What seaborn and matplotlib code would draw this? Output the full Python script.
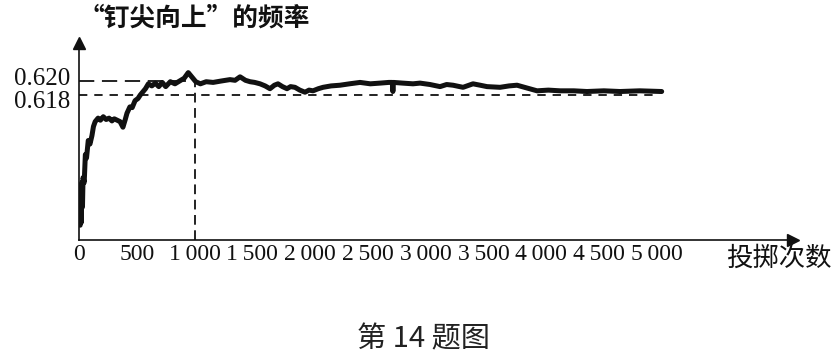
import numpy as np
import pandas as pd
import matplotlib
matplotlib.use("Agg")
import matplotlib.pyplot as plt
import matplotlib.transforms as mtransforms
import seaborn as sns

# ---- data ----
throws = [10, 15, 20, 25, 30, 35, 45, 55, 65, 80, 95, 112, 125, 140, 165, 185, 210, 235,
          260, 285, 305, 330, 355, 380, 400, 415, 440, 460, 485, 510, 530, 555, 575, 600,
          630, 660, 690, 720, 750, 790, 830, 870, 910, 945, 980, 1010, 1050, 1100, 1160,
          1230, 1306, 1350, 1393, 1440, 1480, 1520, 1566, 1610, 1652, 1690, 1721, 1760,
          1799, 1830, 1868, 1910, 1955, 1990, 2024, 2070, 2111, 2180, 2258, 2340, 2431,
          2520, 2604, 2680, 2710, 2715, 2720, 2800, 2889, 2950, 3036, 3123, 3180, 3235,
          3322, 3408, 3470, 3529, 3642, 3720, 3789, 3875, 3962, 4060, 4161, 4280, 4394,
          4540, 4680, 4850, 5040]
freq = [0.5994, 0.6040, 0.5998, 0.6055, 0.6020, 0.6062, 0.6055, 0.6095, 0.6090, 0.6115,
        0.6110, 0.6122, 0.6135, 0.6142, 0.6147, 0.6144, 0.6149, 0.6145, 0.6147, 0.6143,
        0.6146, 0.6144, 0.6142, 0.6134, 0.6145, 0.6154, 0.6163, 0.6162, 0.6172, 0.6175,
        0.6180, 0.6185, 0.6189, 0.6196, 0.6193, 0.6197, 0.6192, 0.6198, 0.6192, 0.6199,
        0.6196, 0.6200, 0.6204, 0.6212, 0.6205, 0.6199, 0.6196, 0.6199, 0.6198, 0.6200,
        0.6202, 0.6201, 0.6206, 0.6201, 0.6199, 0.6198, 0.6196, 0.6193, 0.6189, 0.6194,
        0.6196, 0.6192, 0.6189, 0.6192, 0.6191, 0.6187, 0.6184, 0.6187, 0.6186, 0.6189,
        0.6191, 0.6193, 0.6194, 0.6196, 0.6198, 0.6196, 0.6197, 0.6198, 0.6198, 0.6185,
        0.6198, 0.6197, 0.6196, 0.6197, 0.6195, 0.6192, 0.6195, 0.6194, 0.6191, 0.6196,
        0.6194, 0.6192, 0.6191, 0.6193, 0.6194, 0.6190, 0.6186, 0.6187, 0.6186, 0.6186,
        0.6185, 0.6186, 0.6185, 0.6186, 0.6185]

x_ticks = [0, 500, 1000, 1500, 2000, 2500, 3000, 3500, 4000, 4500, 5000]
x_tick_labels = ["0", "500", "1\u2009000", "1\u2009500", "2\u2009000", "2\u2009500",
                 "3\u2009000", "3\u2009500", "4\u2009000", "4\u2009500", "5\u2009000"]
y_ticks = [0.620, 0.618]
y_tick_labels = ["0.620", "0.618"]
marked_throws = 1000

title_text = "“钉尖向上”的频率"
x_label_text = "投掷次数"
caption_text = "第 14 题图"

# ---- styling ----
sns.set_style("white")
plt.rcParams["font.family"] = ["Noto Sans CJK SC", "DejaVu Sans"]
plt.rcParams["lines.scale_dashes"] = False

W, H = 837, 356
fig = plt.figure(figsize=(W / 100, H / 100), dpi=100)
ax = fig.add_axes([79 / W, (H - 240) / H, (793 - 79) / W, (240 - 43) / H])

df = pd.DataFrame({"throws": throws, "freq": freq})
sns.lineplot(data=df, x="throws", y="freq", ax=ax, color="#111111", linewidth=3.6,
             solid_joinstyle="round", solid_capstyle="round")

ax.set_xlim(0, 6176)
ax.set_ylim(0.59729, 0.62543)

# reference lines
ax.plot([0, marked_throws], [y_ticks[0]] * 2, color="#111111", lw=1.3, dashes=(11, 5.5), zorder=1)
ax.plot([0, 5000], [y_ticks[1]] * 2, color="#111111", lw=1.3, dashes=(6, 5), zorder=1)
ax.plot([marked_throws] * 2, [0.59729, y_ticks[0]], color="#111111", lw=1.3, dashes=(7, 4), zorder=1)

# spines / arrows
for s in ["top", "right"]:
    ax.spines[s].set_visible(False)
for s in ["left", "bottom"]:
    ax.spines[s].set_color("#111111")
    ax.spines[s].set_linewidth(1.2)
ax.plot(1, 0, marker=">", color="#111111", markersize=9, transform=ax.transAxes, clip_on=False)
ax.plot(0, 1, marker="^", color="#111111", markersize=9, transform=ax.transAxes, clip_on=False)

ax.set_xticks(x_ticks)
ax.set_xticklabels(x_tick_labels, family=["Liberation Serif", "DejaVu Serif"], fontsize=17)
ax.set_yticks(y_ticks)
ax.set_yticklabels(y_tick_labels, family=["Liberation Serif", "DejaVu Serif"], fontsize=18)
ax.tick_params(axis="x", direction="in", length=4, width=1, pad=3, colors="#111111")
ax.tick_params(axis="y", length=0, pad=6, colors="#111111")
# push the two close y labels apart
for lbl, dy in zip(ax.get_yticklabels(), [3, -3]):
    lbl.set_transform(lbl.get_transform() + mtransforms.ScaledTranslation(0, dy / 72, fig.dpi_scale_trans))
ax.set_xlabel("")
ax.set_ylabel("")

fig.text(78 / W, 1 - 18 / H, title_text, fontsize=18.5, fontweight="bold", ha="left", va="center",
         color="#111111")
fig.text(832 / W, 1 - 258 / H, x_label_text, fontsize=19, ha="right", va="center", color="#111111")
fig.text(423 / W, 1 - 339 / H, caption_text, fontsize=21, ha="center", va="center", color="#222222")

fig.savefig("out.png", dpi=100, facecolor="white")
